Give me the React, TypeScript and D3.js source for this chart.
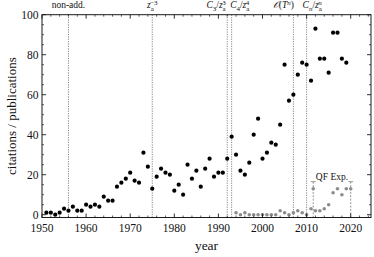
import React from 'react';
import * as d3 from 'd3';

// citations / publications per year (black)
const blackYears = d3.range(1951, 2020);
const blackValues = [
  1, 1, 0, 1, 3, 2, 4, 2, 2, 5, 4, 5, 4, 9, 7, 7, 14, 16, 18, 21,
  17, 16, 31, 24, 13, 19, 23, 21, 20, 12, 15, 10, 25, 18, 22, 14, 23, 28, 19, 21,
  21, 28, 39, 30, 22, 20, 26, 40, 48, 28, 31, 36, 35, 45, 75, 57, 60, 70, 76, 75,
  67, 93, 78, 78, 71, 91, 91, 78, 76,
];

// QF citations (grey)
const greyYears = d3.range(1994, 2021);
const greyValues = [
  1, 0, 1, 0, 0, 0, 0, 0, 0, 0, 2, 1, 0, 1, 2, 1, 0, 3, 2, 2, 3, 5, 11, 13, 10, 13, 13,
];

const xTicks = [1950, 1960, 1970, 1980, 1990, 2000, 2010, 2020];
const yTicks = [0, 20, 40, 60, 80, 100];

// marker lines with their labels
const markerYears = [1956, 1975, 1992, 1993, 2007, 2010];
const qfBracket = [2011.5, 2020];
const qfMark = { year: 2011.5, value: 13 };

const W = 374;
const H = 257;
const serif = "'Liberation Serif', 'DejaVu Serif', serif";

const App = () => {
  const x = d3.scaleLinear().domain([1950, 2024.6]).range([42, 371]);
  const y = d3.scaleLinear().domain([-1.4, 100]).range([217.5, 14.7]);
  const [x0, x1] = x.range();
  const [y0, y1] = y.range();

  const xMinor = d3.range(1952, 2025, 2).filter(v => v % 10 !== 0);
  const yMinor = d3.range(5, 100, 5).filter(v => v % 20 !== 0);

  const lineColor = '#6a6a6a';
  const frame = '#1a1a1a';
  const ink = '#111';
  const small = 7;

  return (
    <svg width={W} height={H} style={{ position: 'absolute', left: 0, top: 0, background: '#fff', fontFamily: serif }}>
      {/* marker lines */}
      {markerYears.map(v => (
        <line key={v} x1={x(v)} x2={x(v)} y1={y1} y2={y0}
          stroke={lineColor} strokeWidth={0.8} strokeDasharray="1.2,1.2" />
      ))}

      {/* QF bracket */}
      {qfBracket.map(v => (
        <g key={v}>
          <line x1={x(v)} x2={x(v)} y1={y(16.5)} y2={y0}
            stroke="#8a8a8a" strokeWidth={0.9} strokeDasharray="2,1.4" />
          <line x1={x(v) - 2.5} x2={x(v) + 2.5} y1={y(16.5)} y2={y(16.5)}
            stroke="#8a8a8a" strokeWidth={0.9} />
        </g>
      ))}
      <text x={(x(qfBracket[0]) + x(qfBracket[1])) / 2} y={y(17.5)} textAnchor="middle"
        fontSize={9.5} fill={ink}>QF Exp.</text>

      {/* grey series */}
      {greyYears.map((v, i) => (
        <circle key={'g' + v} cx={x(v)} cy={y(greyValues[i])} r={1.8} fill="#8c8c8c" />
      ))}
      <circle cx={x(qfMark.year)} cy={y(qfMark.value)} r={1.8} fill="#8c8c8c" />

      {/* black series */}
      {blackYears.map((v, i) => (
        <circle key={'b' + v} cx={x(v)} cy={y(blackValues[i])} r={2.1} fill="#000" />
      ))}

      {/* frame */}
      <rect x={x0} y={y1} width={x1 - x0} height={y0 - y1} fill="none" stroke={frame} strokeWidth={1} />

      {/* ticks */}
      {xTicks.map(v => (
        <g key={'xt' + v}>
          <line x1={x(v)} x2={x(v)} y1={y0} y2={y0 - 4} stroke={frame} strokeWidth={0.9} />
          <line x1={x(v)} x2={x(v)} y1={y1} y2={y1 + 4} stroke={frame} strokeWidth={0.9} />
          <text x={x(v)} y={232} textAnchor="middle" fontSize={11.5} fill={ink}>{v}</text>
        </g>
      ))}
      {xMinor.map(v => (
        <g key={'xm' + v}>
          <line x1={x(v)} x2={x(v)} y1={y0} y2={y0 - 2} stroke={frame} strokeWidth={0.7} />
          <line x1={x(v)} x2={x(v)} y1={y1} y2={y1 + 2} stroke={frame} strokeWidth={0.7} />
        </g>
      ))}
      {yTicks.map(v => (
        <g key={'yt' + v}>
          <line x1={x0} x2={x0 + 4} y1={y(v)} y2={y(v)} stroke={frame} strokeWidth={0.9} />
          <line x1={x1} x2={x1 - 4} y1={y(v)} y2={y(v)} stroke={frame} strokeWidth={0.9} />
          <text x={38.5} y={y(v)} dy="0.34em" textAnchor="end" fontSize={11.5} fill={ink}>{v}</text>
        </g>
      ))}
      {yMinor.map(v => (
        <g key={'ym' + v}>
          <line x1={x0} x2={x0 + 2} y1={y(v)} y2={y(v)} stroke={frame} strokeWidth={0.7} />
          <line x1={x1} x2={x1 - 2} y1={y(v)} y2={y(v)} stroke={frame} strokeWidth={0.7} />
        </g>
      ))}

      {/* axis titles */}
      <text x={(x0 + x1) / 2} y={250} textAnchor="middle" fontSize={13.5} fill={ink}>year</text>
      <text transform={`translate(15.5, ${(y0 + y1) / 2}) rotate(-90)`} textAnchor="middle"
        fontSize={13} fill={ink}>citations / publications</text>

      {/* marker labels */}
      <g fontSize={9.5} fill={ink}>
        <text x={x(1956)} y={8} textAnchor="middle">non-add.</text>
        <text x={x(1975)} y={8} textAnchor="middle">
          <tspan fontStyle="italic">z</tspan>
          <tspan dy={2.5} fontSize={small}>a</tspan>
          <tspan dx={-3.6} dy={-6} fontSize={small}>−3</tspan>
        </text>
        <text x={x(1992) - 1.5} y={8} textAnchor="end">
          <tspan fontStyle="italic">C</tspan>
          <tspan dy={2.5} fontSize={small}>3</tspan>
          <tspan dy={-2.5}>/</tspan>
          <tspan fontStyle="italic">z</tspan>
          <tspan dy={2.5} fontSize={small}>a</tspan>
          <tspan dx={-3.6} dy={-6} fontSize={small}>3</tspan>
        </text>
        <text x={x(1993) - 1.5} y={8}>
          <tspan fontStyle="italic">C</tspan>
          <tspan dy={2.5} fontSize={small}>4</tspan>
          <tspan dy={-2.5}>/</tspan>
          <tspan fontStyle="italic">z</tspan>
          <tspan dy={2.5} fontSize={small}>a</tspan>
          <tspan dx={-3.6} dy={-6} fontSize={small}>4</tspan>
        </text>
        <text x={x(2007) + 0.5} y={8} textAnchor="end">
          <tspan fontStyle="italic">𝒪</tspan>
          <tspan>(</tspan>
          <tspan fontStyle="italic">T</tspan>
          <tspan dy={-3.5} fontSize={small} fontStyle="italic">n</tspan>
          <tspan dy={3.5}>)</tspan>
        </text>
        <text x={x(2010) - 4} y={8}>
          <tspan fontStyle="italic">C</tspan>
          <tspan dy={2.5} fontSize={small} fontStyle="italic">n</tspan>
          <tspan dy={-2.5}>/</tspan>
          <tspan fontStyle="italic">z</tspan>
          <tspan dy={2.5} fontSize={small}>a</tspan>
          <tspan dx={-3.6} dy={-6} fontSize={small} fontStyle="italic">n</tspan>
        </text>
      </g>
    </svg>
  );
};

export default App;
